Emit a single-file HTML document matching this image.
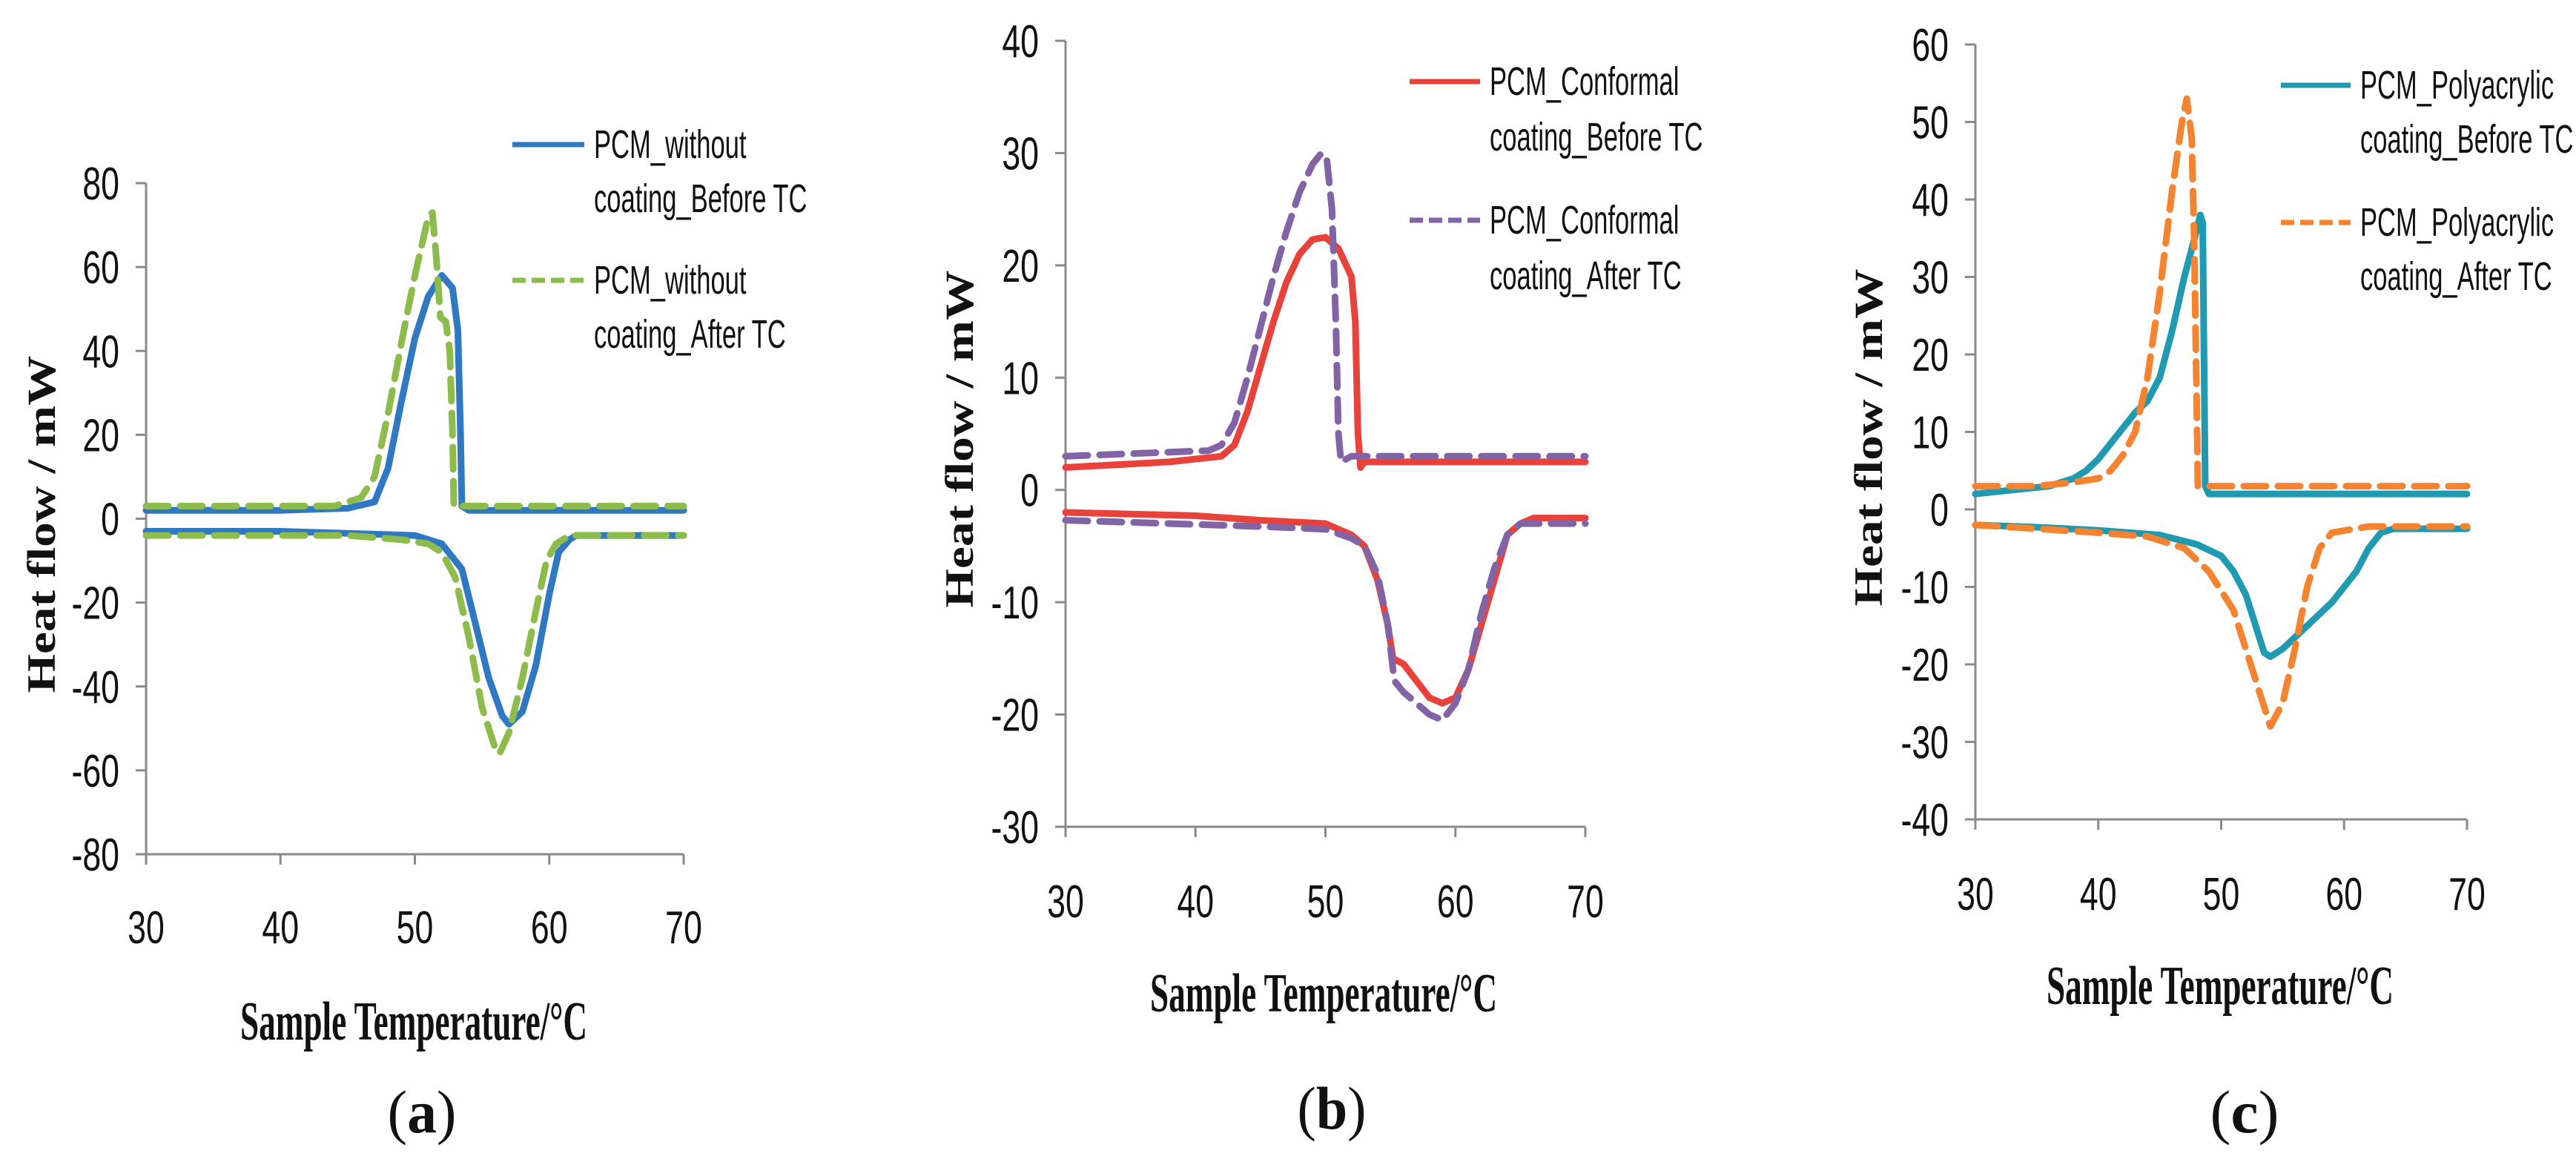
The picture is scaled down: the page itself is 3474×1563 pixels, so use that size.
<!DOCTYPE html>
<html><head><meta charset="utf-8"><style>
html,body{margin:0;padding:0;background:#fff}
svg{display:block}
.tick{font-family:"Liberation Sans",sans-serif;font-size:62px;fill:#111}
.leg{font-family:"Liberation Sans",sans-serif;font-size:54px;fill:#111}
.ttl{font-family:"Liberation Serif",serif;font-weight:bold;font-size:74px;fill:#111}
.ytl{font-family:"Liberation Serif",serif;font-weight:bold;font-size:54px;fill:#111}
.cap{font-family:"Liberation Serif",serif;font-size:82px;fill:#111}
</style></head><body>
<svg id="fig" width="3474" height="1563" viewBox="0 0 3474 1563" xmlns="http://www.w3.org/2000/svg"></svg>
<script>
// Panel (a) data
const aYTicks = [80,60,40,20,0,-20,-40,-60,-80];
const aBeforeUpX = [30,40,45,47,48,49,50,51,52,52.8,53.2,53.4,53.5,54,70];
const aBeforeUpY = [2,2,2.5,4,12,28,43,53,58,55,45,20,3,2,2];
const aBeforeLoX = [30,40,50,52,53.5,54.5,55.5,56.5,57,58,59,60,60.7,61.5,62,70];
const aBeforeLoY = [-3,-3,-4,-6,-12,-25,-38,-47,-49,-46,-35,-18,-8,-5,-4,-4];
const aAfterUpX = [30,44,46,47,48,49,50,51,51.3,51.6,51.9,52.3,52.6,52.8,52.9,53.5,70];
const aAfterUpY = [3,3,5,10,25,42,58,72,73,62,48,47,40,20,3,3,3];
const aAfterLoX = [30,45,49,51,52,53,54,55,56,56.3,57,58,59,59.8,60.5,61.5,70];
const aAfterLoY = [-4,-4,-5,-6,-8,-14,-28,-45,-55,-56,-51,-38,-22,-10,-6,-4,-4];
// Panel (b) data
const bYTicks = [40,30,20,10,0,-10,-20,-30];
const bBeforeUpX = [30,38,42,43,44,45,46,47,48,49,50,51,52,52.3,52.5,52.7,53,70];
const bBeforeUpY = [2,2.5,3,4,7,11,15,18.5,21,22.3,22.5,21.5,19,15,5,2,2.5,2.5];
const bBeforeLoX = [30,40,45,50,52,53,54,54.8,55.2,56,57,58,59,60,61,62,63,64,65,66,70];
const bBeforeLoY = [-2,-2.3,-2.7,-3,-4,-5,-8,-12,-15,-15.5,-17,-18.5,-19,-18.5,-16,-12,-8,-4,-3,-2.5,-2.5];
const bAfterUpX = [30,41,42,43,44,45,46,47,48,49,49.7,50.1,50.5,50.8,51,51.2,52,70];
const bAfterUpY = [3,3.5,4,6,10,14.5,19,23,26.5,29,30,29.5,25,15,5,2.5,3,3];
const bAfterLoX = [30,38,46,50,52,53,54,54.8,55.3,56,57,58,59,60,61,62,63,64,65,70];
const bAfterLoY = [-2.7,-3,-3.3,-3.5,-4.3,-5,-7.5,-12,-17,-18,-19,-20,-20.5,-19,-16,-11,-7,-4,-3,-3];
// Panel (c) data
const cYTicks = [60,50,40,30,20,10,0,-10,-20,-30,-40];
const cBeforeUpX = [30,36,38,39,40,41,42,43,44,45,46,47,48,48.3,48.5,48.6,48.7,49,70];
const cBeforeUpY = [2,3,4,5,6.5,8.5,10.5,12.5,14,17,23,30,36,38,37,20,3,2,2];
const cBeforeLoX = [30,35,40,45,48,50,51,52,53,53.5,54,55,57,59,60,61,62,63,64,70];
const cBeforeLoY = [-2,-2.3,-2.7,-3.3,-4.5,-6,-8,-11,-16,-18.5,-19,-18,-15,-12,-10,-8,-5,-3,-2.5,-2.5];
const cAfterUpX = [30,35,38,40,41,42,43,44,45,46,46.8,47.2,47.6,47.8,48,48.1,48.5,70];
const cAfterUpY = [3,3,3.5,4,5,7,10,17,28,41,50,53,48,35,15,3,3,3];
const cAfterLoX = [30,35,40,44,47,49,51,52,53,54,55,56,57,58,59,62,70];
const cAfterLoY = [-2,-2.5,-3,-3.5,-5,-8,-13,-18,-23,-28,-25,-18,-10,-5,-3,-2.2,-2.2];
const xTicks = [30,40,50,60,70];

const NS = "http://www.w3.org/2000/svg";
const fig = document.getElementById('fig');
function mk(tag, attrs, parent, text){
  const e = document.createElementNS(NS, tag);
  for (const k in attrs) e.setAttribute(k, attrs[k]);
  if (text !== undefined) e.textContent = text;
  (parent || fig).appendChild(e);
  return e;
}
function panel(p){
  const g = mk('g', {});
  
  
  const sx = v => p.x0 + (v - 30) / 40 * (p.x1 - p.x0);
  const sy = v => p.yTop + (p.yMax - v) / (p.yMax - p.yMin) * (p.yBot - p.yTop);
  const ax = mk('line', {x1:p.x0, y1:p.yTop, x2:p.x0, y2:p.yBot, stroke:'#8a8a8a', 'stroke-width':3}, g);
  
  
  const bx = mk('line', {x1:p.x0, y1:p.yBot, x2:p.x1, y2:p.yBot, stroke:'#8a8a8a', 'stroke-width':3}, g);
  
  
  p.yTicks.forEach(v => {
    const y = sy(v);
    mk('line', {x1:p.x0-14, y1:y, x2:p.x0, y2:y, stroke:'#8a8a8a', 'stroke-width':3}, g);
    const t = mk('text', {x:0, y:0, 'text-anchor':'end', class:'tick', transform:`translate(${p.x0-36},${y+22}) scale(0.72,1)`}, g, String(v));
    
    
  });
  xTicks.forEach(v => {
    const x = sx(v);
    mk('line', {x1:x, y1:p.yBot, x2:x, y2:p.yBot+14, stroke:'#8a8a8a', 'stroke-width':3}, g);
    const t = mk('text', {x:0, y:0, 'text-anchor':'middle', class:'tick', transform:`translate(${x},${p.xLabY}) scale(0.72,1)`}, g, String(v));
    
    
  });
  p.series.forEach(s => {
    [[s.ux, s.uy], [s.lx, s.ly]].forEach(([xs, ys], i) => {
      const d = xs.map((x, k) => (k ? 'L' : 'M') + sx(x).toFixed(1) + ',' + sy(ys[k]).toFixed(1)).join(' ');
      const path = mk('path', {d:d, fill:'none', stroke:s.color, 'stroke-width':9, 'stroke-linejoin':'round', 'stroke-linecap':'round', 'stroke-dasharray':s.dash ? '30 16' : 'none'}, g);
      
      
    });
  });
  p.series.forEach((s, i) => {
    const y = p.legY[i];
    const l = mk('line', {x1:p.legX0, y1:y, x2:p.legX1, y2:y, stroke:s.color, 'stroke-width':7, 'stroke-dasharray':s.dash ? '18 8' : 'none'}, g);
    
    
    const t1 = mk('text', {x:0, y:0, class:'leg', transform:`translate(${p.legTx},${y+18}) scale(0.64,1)`}, g, s.l1);
    
    
    const t2 = mk('text', {x:0, y:0, class:'leg', transform:`translate(${p.legTx},${y+18+p.legGap}) scale(0.64,1)`}, g, s.l2);
    
    
  });
  const xt = mk('text', {x:p.xTitX, y:p.xTitY, 'text-anchor':'middle', class:'ttl', textLength:468, lengthAdjust:'spacingAndGlyphs'}, g, 'Sample Temperature/°C');
  
  
  const yt = mk('text', {x:0, y:0, 'text-anchor':'middle', class:'ytl', textLength:455, lengthAdjust:'spacingAndGlyphs', transform:`translate(${p.yTitX+18},${p.yTitY}) rotate(-90)`}, g, 'Heat flow / mW');
  
  
  const cap = mk('text', {x:p.capX, y:p.capY, 'text-anchor':'middle', class:'cap', textLength:93, lengthAdjust:'spacingAndGlyphs'}, g);
  
  
  mk('tspan', {}, cap, '(');
  mk('tspan', {'font-weight':'bold'}, cap, p.letter);
  mk('tspan', {}, cap, ')');
}
panel({name:'panel-a', x0:197, x1:922, yTop:247, yBot:1152, yMax:80, yMin:-80, yTicks:aYTicks, xLabY:1272,
  legX0:691, legX1:788, legTx:801, legY:[195,378], legGap:73,
  xTitX:558, xTitY:1402, yTitX:56, yTitY:707, capX:569, capY:1527, letter:'a',
  series:[
    {key:'without-coating-before', color:'#2f78c4', dash:false, ux:aBeforeUpX, uy:aBeforeUpY, lx:aBeforeLoX, ly:aBeforeLoY, l1:'PCM_without', l2:'coating_Before TC'},
    {key:'without-coating-after', color:'#8dbb4c', dash:true, ux:aAfterUpX, uy:aAfterUpY, lx:aAfterLoX, ly:aAfterLoY, l1:'PCM_without', l2:'coating_After TC'}
  ]});
panel({name:'panel-b', x0:1437, x1:2138, yTop:55, yBot:1115, yMax:40, yMin:-30, yTicks:bYTicks, xLabY:1237,
  legX0:1901, legX1:1996, legTx:2009, legY:[110,297], legGap:75,
  xTitX:1785, xTitY:1364, yTitX:1294, yTitY:592, capX:1796, capY:1522, letter:'b',
  series:[
    {key:'conformal-coating-before', color:'#e8423b', dash:false, ux:bBeforeUpX, uy:bBeforeUpY, lx:bBeforeLoX, ly:bBeforeLoY, l1:'PCM_Conformal', l2:'coating_Before TC'},
    {key:'conformal-coating-after', color:'#8264a6', dash:true, ux:bAfterUpX, uy:bAfterUpY, lx:bAfterLoX, ly:bAfterLoY, l1:'PCM_Conformal', l2:'coating_After TC'}
  ]});
panel({name:'panel-c', x0:2664, x1:3327, yTop:60, yBot:1105, yMax:60, yMin:-40, yTicks:cYTicks, xLabY:1227,
  legX0:3076, legX1:3170, legTx:3183, legY:[115,300], legGap:73,
  xTitX:2994, xTitY:1354, yTitX:2520, yTitY:590, capX:3027, capY:1527, letter:'c',
  series:[
    {key:'polyacrylic-coating-before', color:'#1f9ab0', dash:false, ux:cBeforeUpX, uy:cBeforeUpY, lx:cBeforeLoX, ly:cBeforeLoY, l1:'PCM_Polyacrylic', l2:'coating_Before TC'},
    {key:'polyacrylic-coating-after', color:'#f5832f', dash:true, ux:cAfterUpX, uy:cAfterUpY, lx:cAfterLoX, ly:cAfterLoY, l1:'PCM_Polyacrylic', l2:'coating_After TC'}
  ]});
</script>
</body></html>
